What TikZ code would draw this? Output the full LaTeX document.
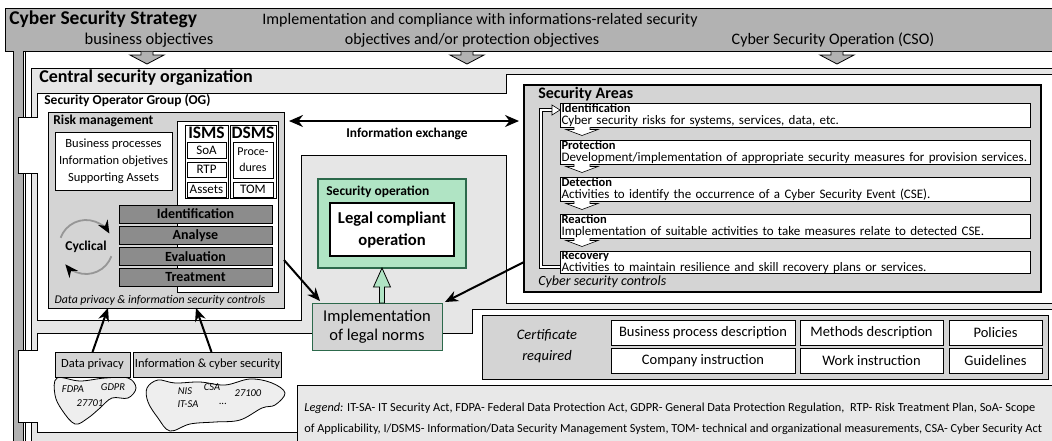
\documentclass[tikz,border=0pt]{standalone}
\usepackage{fontspec}
\setmainfont{Carlito}
\usetikzlibrary{calc,arrows.meta}

\newcommand{\fsz}[2]{\fontsize{#1}{#2}\selectfont}

\definecolor{bannergray}{RGB}{178,178,178}
\definecolor{centralgray}{RGB}{230,230,230}
\definecolor{legendgray}{RGB}{232,232,232}
\definecolor{riskgray}{RGB}{212,212,212}
\definecolor{bargray}{RGB}{140,140,140}
\definecolor{areagray}{RGB}{212,212,212}
\definecolor{certgray}{RGB}{212,212,212}
\definecolor{opgreen}{RGB}{176,228,196}
\definecolor{opborder}{RGB}{44,105,75}
\definecolor{cloudgray}{RGB}{238,238,238}
\definecolor{ringgray}{RGB}{150,150,150}

\begin{document}
\begin{tikzpicture}[x=1pt, y=-1pt, outer sep=0pt, line width=0.8pt]
  \tikzstyle{box}=[draw, rectangle, anchor=center, inner sep=1pt, align=center]
  \tikzstyle{zone}=[draw, line width=0.8pt]
  \tikzstyle{bar}=[box, fill=bargray, minimum width=153pt, minimum height=18pt, font=\fsz{14}{15}\bfseries]
  \tikzstyle{small}=[box, fill=white, minimum width=39pt, font=\fsz{13}{14}]
  \tikzstyle{area}=[draw, rectangle, fill=white, anchor=north west, minimum height=24pt, inner xsep=1.5pt, inner ysep=0.5pt, align=left, text width=467pt, font=\fsz{13}{11.5}]
  \tikzstyle{cert}=[box, fill=white, minimum height=25pt, font=\fsz{14.5}{16}]
  \tikzstyle{arrow}=[line width=2pt, -{Stealth[length=13pt, width=11pt]}, draw=black]
  \tikzstyle{biarrow}=[line width=2pt, {Stealth[length=14pt, width=12pt]}-{Stealth[length=14pt, width=12pt]}, shorten <=5pt, shorten >=5pt]
  \tikzstyle{blockarrow}=[draw, fill=bannergray, line width=0.8pt]
  \tikzstyle{rowarrow}=[draw, fill=white, line width=0.6pt]
  \tikzstyle{ringarrow}=[draw=ringgray, line width=1.8pt, -{Stealth[length=13pt, width=11pt, black]}]
  \tikzstyle{cycleline}=[draw, double=white, double distance=2.5pt, line width=0.6pt]
  \tikzstyle{blob}=[draw, fill=cloudgray, line width=0.8pt]
  \tikzstyle{tag}=[font=\fsz{10.5}{12}\itshape]

  \clip (0,0) rectangle (1052,440);
  \fill[white] (0,0) rectangle (1052,440);

  \draw[zone, fill=bannergray] (5,8) -- (1060,8) -- (1060,51) -- (23,51) -- (23,450) -- (13,450) -- (13,51) -- (5,51) -- cycle;
  \draw[zone] (25,51) -- (25,450);
  \draw[zone, fill=centralgray] (31,68) rectangle (1060,450);
  \draw[zone, fill=white] (37,93) -- (506,93) -- (506,74) -- (1060,74) -- (1060,303) -- (506,303) -- (506,155) -- (301,155) -- (301,320) -- (37,320) -- cycle;
  \draw[zone, fill=white] (37,333) -- (472,333) -- (472,309) -- (1060,309) -- (1060,432) -- (37,432) -- cycle;
  \draw[zone, fill=legendgray] (297,385) rectangle (1060,450);
  \fill[white] (18,117) rectangle (38,173);
  \draw[zone] (38,117) -- (18,117) -- (18,173) -- (38,173);
  \fill[white] (18,350) rectangle (38,422);
  \draw[zone] (38,350) -- (18,350) -- (18,422) -- (38,422);

  \draw[blockarrow] (141,51.5) -- (141,55) -- (130,55) -- (147,64) -- (164,55) -- (153,55) -- (153,51.5);
  \draw[blockarrow] (461,51.5) -- (461,55) -- (450,55) -- (467,64) -- (484,55) -- (473,55) -- (473,51.5);
  \draw[blockarrow] (831,51.5) -- (831,55) -- (820,55) -- (837,64) -- (854,55) -- (843,55) -- (843,51.5);

  \node[anchor=west, font=\fsz{19.5}{22}\bfseries] (strategy) at (6,19) {Cyber Security Strategy};
  \node[font=\fsz{16.5}{18}] (bizobj) at (149,40) {business objectives};
  \node[font=\fsz{16}{18}] (compliance) at (480,20) {Implementation and compliance with informations-related security};
  \node[font=\fsz{16}{18}] (protobj) at (472,40) {objectives and/or protection objectives};
  \node[font=\fsz{16}{18}] (cso) at (833,40) {Cyber Security Operation (CSO)};

  \node[anchor=west, font=\fsz{18}{21}\bfseries] (central) at (36,78) {Central security organization};
  \node[anchor=west, font=\fsz{13.5}{15}\bfseries] (og) at (41,101) {Security Operator Group (OG)};

  \node[box, fill=riskgray, minimum width=236pt, minimum height=196pt] (risk) at (166,210) {};
  \node[anchor=west, font=\fsz{13.5}{15}\bfseries] (risktitle) at (50,121) {Risk management};
  \node[box, fill=white, minimum width=117pt, minimum height=58pt, font=\fsz{12.5}{17}] (assets) at (113.5,161) {Business processes\\Information objetives\\Supporting Assets};

  \node[box, fill=white, minimum width=101pt, minimum height=171pt] (msback) at (227.5,206.5) {};
  \node[box, fill=white, minimum width=43pt, minimum height=73pt] (isms) at (206.5,161.5) {};
  \node[font=\fsz{17.5}{18}\bfseries] (ismslabel) at (206.5,133) {ISMS};
  \node[small, minimum height=16pt] (soa) at (206.5,150) {SoA};
  \node[small, minimum height=15pt] (rtp) at (206.5,169.5) {RTP};
  \node[small, minimum height=15pt] (asset) at (206.5,189.5) {Assets};
  \node[box, fill=white, minimum width=46pt, minimum height=73pt] (dsms) at (253,161.5) {};
  \node[font=\fsz{17.5}{18}\bfseries] (dsmslabel) at (253,133) {DSMS};
  \node[small, minimum width=40pt, minimum height=36pt, font=\fsz{12}{16}] (proc) at (253,160) {Proce-\\dures};
  \node[small, minimum width=40pt, minimum height=15pt] (tom) at (253,189.5) {TOM};

  \node[bar] (ident) at (195.5,214) {Identification};
  \node[bar] (analyse) at (195.5,235.5) {Analyse};
  \node[bar] (eval) at (195.5,256.5) {Evaluation};
  \node[bar] (treat) at (195.5,277.5) {Treatment};

  \node[font=\fsz{13.5}{15}\bfseries] (cyc) at (86,247) {Cyclical};
  \draw[ringarrow] (cyc.center) ++(200:27) arc[start angle=200, end angle=330, radius=27];
  \draw[ringarrow] (cyc.center) ++(20:27) arc[start angle=20, end angle=140, radius=27];

  \node[font=\fsz{11.8}{13}\itshape] (controls) at (160,300) {Data privacy \& information security controls};

  \node[box, fill=areagray, line width=2pt, minimum width=517pt, minimum height=207pt] (areas) at (782.5,188.5) {};
  \node[anchor=west, font=\fsz{16}{18}\bfseries] (areastitle) at (535,94) {Security Areas};
  \node[area] (a1) at (560,103) {{\bfseries\fsz{12.5}{11.5}Identification}\\Cyber security risks for systems, services, data, etc.};
  \node[area] (a2) at (560,140) {{\bfseries\fsz{12.5}{11.5}Protection}\\Development/implementation of appropriate security measures for provision services.};
  \node[area] (a3) at (560,177) {{\bfseries\fsz{12.5}{11.5}Detection}\\Activities to identify the occurrence of a Cyber Security Event (CSE).};
  \node[area] (a4) at (560,214) {{\bfseries\fsz{12.5}{11.5}Reaction}\\Implementation of suitable activities to take measures relate to detected CSE.};
  \node[area, minimum height=21pt, inner ysep=0pt, font=\fsz{13}{9.5}] (a5) at (560,251) {{\bfseries\fsz{12.5}{9.5}Recovery}\\Activities to maintain resilience and skill recovery plans or services.};
  \draw[rowarrow] ($(a1.south west)+(14,0)$) -- ++(0,2.5) -- ++(-8,0) -- ++(16,6) -- ++(16,-6) -- ++(-8,0) -- ++(0,-2.5);
  \draw[rowarrow] ($(a2.south west)+(14,0)$) -- ++(0,2.5) -- ++(-8,0) -- ++(16,6) -- ++(16,-6) -- ++(-8,0) -- ++(0,-2.5);
  \draw[rowarrow] ($(a3.south west)+(14,0)$) -- ++(0,2.5) -- ++(-8,0) -- ++(16,6) -- ++(16,-6) -- ++(-8,0) -- ++(0,-2.5);
  \draw[rowarrow] ($(a4.south west)+(14,0)$) -- ++(0,2.5) -- ++(-8,0) -- ++(16,6) -- ++(16,-6) -- ++(-8,0) -- ++(0,-2.5);
  \draw[cycleline] ([yshift=-5pt]a5.west) -- ++(-19,0) |- ([xshift=-8pt, yshift=5pt]a1.west);
  \draw[rowarrow] ([xshift=-8pt, yshift=10pt]a1.west) -- ([yshift=5pt]a1.west) -- ([xshift=-8pt]a1.west) -- cycle;
  \node[anchor=west, font=\fsz{14}{16}\itshape] (ctrl) at (535,282) {Cyber security controls};

  \coordinate (xch) at (400,121);
  \draw[biarrow] (risk.east |- xch) -- (areas.west |- xch);
  \node[font=\fsz{13.4}{15}\bfseries] (xchlabel) at (407,134) {Information exchange};

  \node[box, fill=opgreen, draw=opborder, line width=1.2pt, minimum width=148pt, minimum height=89pt] (secop) at (392,223.5) {};
  \node[anchor=west, font=\fsz{13.5}{15}\bfseries] (secoptitle) at (323,192) {Security operation};
  \node[box, fill=white, line width=2pt, minimum width=124pt, minimum height=53pt, font=\fsz{16.6}{22}\bfseries] (legal) at (392,229.5) {Legal compliant\\operation};
  \node[box, fill=certgray, draw=opborder, minimum width=130pt, minimum height=47pt, font=\fsz{16.5}{19}] (impl) at (377,326.5) {Implementation\\of legal norms};

  \coordinate (gbase) at ($(impl.north)+(5,0)$);
  \coordinate (gtip) at (gbase |- secop.south);
  \draw[fill=opgreen, line width=0.8pt] ($(gbase)+(-2.5,0)$) -- ($(gbase)+(-2.5,-16)$) -- ($(gbase)+(-8.5,-16)$) -- (gtip) -- ($(gbase)+(8.5,-16)$) -- ($(gbase)+(2.5,-16)$) -- ($(gbase)+(2.5,0)$) -- cycle;

  \draw[arrow] ([yshift=-50pt]risk.east) -- ([xshift=8pt, yshift=2pt]impl.north west);
  \draw[arrow] ([yshift=-73.5pt]areas.west) -- ([xshift=3pt, yshift=1pt]impl.north east);

  \node[box, fill=certgray, minimum width=566pt, minimum height=64pt] (certbox) at (765,347) {};
  \node[font=\fsz{14.5}{21}\itshape, align=center] (certlabel) at (547,346) {Certificate\\required};
  \node[cert, minimum width=184pt] (bpd) at (703,332.5) {Business process description};
  \node[cert, minimum width=143pt] (md) at (871.5,332.5) {Methods description};
  \node[cert, minimum width=93pt] (pol) at (995.5,332.5) {Policies};
  \node[cert, minimum width=184pt] (ci) at (703,360.5) {Company instruction};
  \node[cert, minimum width=143pt] (wi) at (871.5,360.5) {Work instruction};
  \node[cert, minimum width=93pt] (gl) at (995.5,360.5) {Guidelines};

  \node[anchor=west, font=\fsz{12.3}{13}] (legend1) at (301,408) {\textit{Legend:} IT-SA- IT Security Act, FDPA- Federal Data Protection Act, GDPR- General Data Protection Regulation,\ \ RTP- Risk Treatment Plan, SoA- Scope};
  \node[anchor=west, font=\fsz{12.3}{13}] (legend2) at (301,429) {of Applicability, I/DSMS- Information/Data Security Management System, TOM- technical and organizational measurements, CSA- Cyber Security Act};

  \draw[blob] plot[smooth cycle, tension=0.6] coordinates {(57,378) (80,381) (105,378) (128,378) (136,388) (128,398) (112,398) (100,408) (88,418) (75,424) (62,410) (55,395)};
  \draw[blob] plot[smooth cycle, tension=0.6] coordinates {(147,388) (158,380) (175,383) (200,382) (225,385) (250,379) (272,383) (285,393) (275,405) (262,408) (240,420) (215,422) (190,424) (170,431) (158,418) (148,402)};
  \node[box, fill=certgray, minimum width=75pt, minimum height=25pt, font=\fsz{12.5}{14}] (dp) at (92.5,364.5) {Data privacy};
  \node[box, fill=certgray, minimum width=141pt, minimum height=25pt, font=\fsz{12.5}{14}] (ics) at (207.5,364.5) {Information \& cyber security};
  \node[tag] (fdpa) at (73,389) {FDPA};
  \node[tag] (gdpr) at (113,387) {GDPR};
  \node[tag] (iso1) at (90,403) {27701};
  \node[tag] (nis) at (185,391) {NIS};
  \node[tag] (csa) at (212,387) {CSA};
  \node[tag] (iso2) at (248,393) {27100};
  \node[tag] (itsa) at (188,404) {IT-SA};
  \node[tag] (more) at (223,404) {...};

  \draw[arrow] (dp.north) -- ([xshift=-58pt]risk.south);
  \draw[arrow] ([xshift=4pt]ics.north) -- ([xshift=30pt]risk.south);
\end{tikzpicture}
\end{document}
